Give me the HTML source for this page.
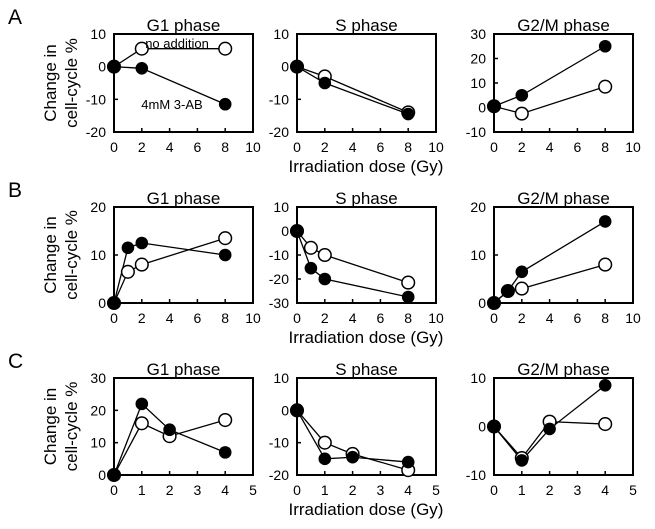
<!DOCTYPE html><html><head><style>body{margin:0;background:#fff}svg{display:block}text{font-family:"Liberation Sans",Arial,sans-serif;fill:#000}</style></head><body>
<svg id="s" width="655" height="529" xmlns="http://www.w3.org/2000/svg"></svg>
<script>
const S=document.getElementById('s');let h='';
const W=139;
const rows=[{t:34,b:132},{t:207,b:303},{t:378,b:475}];
const lefts=[114,297,494];
const titles=['G1 phase','S phase','G2/M phase'];
const P=[
[{y:[-20,10],yt:[-20,-10,0,10],x:10,f:[[0,0],[2,-0.5],[8,-11.5]],o:[[0,0],[2,5.5],[8,5.5]]},
 {y:[-20,10],yt:[-20,-10,0,10],x:10,o:[[0,0],[2,-3],[8,-14]],f:[[0,0],[2,-5],[8,-14.5]]},
 {y:[-10,30],yt:[-10,0,10,20,30],x:10,f:[[0,0.5],[2,5],[8,25]],o:[[0,0.5],[2,-2.5],[8,8.5]]}],
[{y:[0,20],yt:[0,10,20],x:10,o:[[0,0],[1,6.5],[2,8],[8,13.5]],f:[[0,0],[1,11.5],[2,12.5],[8,10]]},
 {y:[-30,10],yt:[-30,-20,-10,0,10],x:10,o:[[0,0],[1,-7],[2,-10],[8,-21.5]],f:[[0,0],[1,-15.5],[2,-20],[8,-27.5]]},
 {y:[0,20],yt:[0,10,20],x:10,o:[[0,0],[1,2.5],[2,3],[8,8]],f:[[0,0],[1,2.5],[2,6.5],[8,17]]}],
[{y:[0,30],yt:[0,10,20,30],x:5,o:[[0,0],[1,16],[2,12],[4,17]],f:[[0,0],[1,22],[2,14],[4,7]]},
 {y:[-20,10],yt:[-20,-10,0,10],x:5,o:[[0,0],[1,-10],[2,-13.5],[4,-18.5]],f:[[0,0],[1,-15],[2,-14.5],[4,-16]]},
 {y:[-10,10],yt:[-10,0,10],x:5,o:[[0,0],[1,-6.5],[2,1],[4,0.5]],f:[[0,0],[1,-7],[2,-0.5],[4,8.5]]}]];
['A','B','C'].forEach((L,r)=>{
 const R=rows[r];
 h+=`<text x="8" y="${R.t-10}" font-size="21">${L}</text>`;
 const cy=(R.t+R.b)/2;
 h+=`<text transform="translate(56,${cy}) rotate(-90)" text-anchor="middle" font-size="17">Change in</text>`;
 h+=`<text transform="translate(77,${cy}) rotate(-90)" text-anchor="middle" font-size="17">cell-cycle %</text>`;
 h+=`<text x="366" y="${R.b+40}" text-anchor="middle" font-size="17">Irradiation dose (Gy)</text>`;
 lefts.forEach((l,c)=>{
  const p=P[r][c];
  const X=v=>l+v/p.x*W, Y=v=>R.b-(v-p.y[0])/(p.y[1]-p.y[0])*(R.b-R.t);
  h+=`<text x="${l+W/2}" y="${R.t-3}" text-anchor="middle" font-size="17">${titles[c]}</text>`;
  h+=`<rect x="${l}" y="${R.t}" width="${W}" height="${R.b-R.t}" fill="none" stroke="#000" stroke-width="2"/>`;
  p.yt.forEach(v=>{h+=`<line x1="${l}" x2="${l+4}" y1="${Y(v)}" y2="${Y(v)}" stroke="#000" stroke-width="1.5"/><text x="${l-8}" y="${Y(v)+5}" text-anchor="end" font-size="14">${v}</text>`;});
  const st=p.x==10?2:1;
  for(let v=0;v<=p.x;v+=st){h+=`<line x1="${X(v)}" x2="${X(v)}" y1="${R.b}" y2="${R.b-4}" stroke="#000" stroke-width="1.5"/><text x="${X(v)}" y="${R.b+20}" text-anchor="middle" font-size="14">${v}</text>`;}
  const line=(pts)=>`<polyline points="${pts.map(q=>X(q[0])+','+Y(q[1])).join(' ')}" fill="none" stroke="#000" stroke-width="1.3"/>`;
  h+=line(p.o)+line(p.f);
  p.o.forEach(q=>h+=`<circle cx="${X(q[0])}" cy="${Y(q[1])}" r="6.3" fill="#fff" stroke="#000" stroke-width="1.5"/>`);
  p.f.forEach(q=>h+=`<circle cx="${X(q[0])}" cy="${Y(q[1])}" r="6.3" fill="#000"/>`);
 });
});
h+=`<text x="177" y="48" text-anchor="middle" font-size="13">no addition</text>`;
h+=`<text x="172" y="109" text-anchor="middle" font-size="13">4mM 3-AB</text>`;
S.innerHTML=h;
</script></body></html>
